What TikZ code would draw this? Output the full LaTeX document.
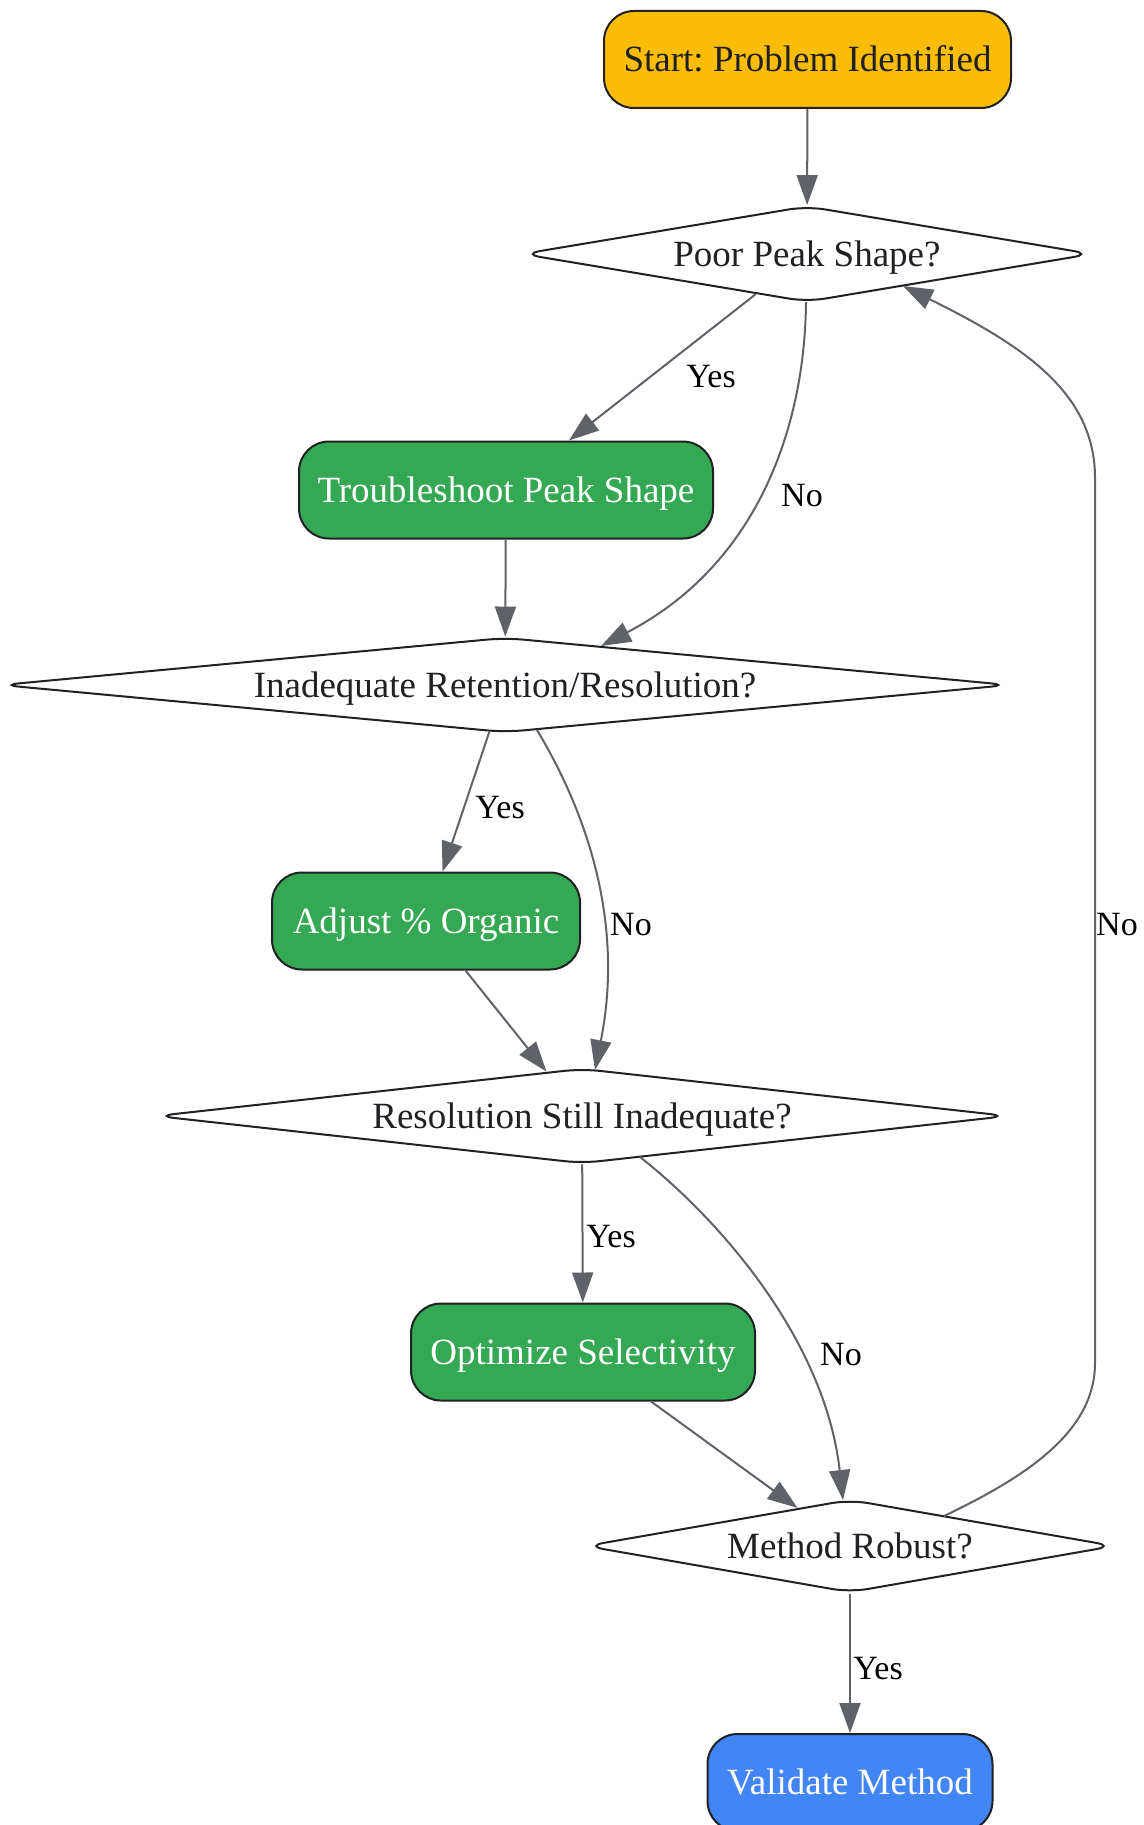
\documentclass[tikz,border=0pt]{standalone}
\usepackage{fontspec}
\setmainfont{Liberation Serif}
\usetikzlibrary{shapes.geometric,arrows.meta,calc}
\definecolor{gyel}{HTML}{FBBC05}
\definecolor{ggrn}{HTML}{34A853}
\definecolor{gblu}{HTML}{4285F4}
\definecolor{egray}{HTML}{5F6368}
\definecolor{bord}{HTML}{202124}
\frenchspacing
\begin{document}
\begin{tikzpicture}[x=1pt,y=-1pt,
  box/.style={draw=bord, line width=2pt, rounded corners=30pt, minimum height=97pt,
    inner sep=0pt, text height=24pt, text depth=0pt, font=\fontsize{37}{44}\selectfont},
  dec/.style={draw=bord, fill=white, line width=2pt, shape=diamond, rounded corners=18pt,
    inner sep=0pt, text=bord, text height=24pt, text depth=0pt, font=\fontsize{37}{44}\selectfont},
  conn/.style={draw=egray, line width=2pt, -{Triangle[length=30pt,width=21pt]}},
  lbl/.style={font=\fontsize{34}{40}\selectfont, anchor=base, inner sep=0pt, text=black}]
\fill[white] (0,0) rectangle (1143,1825);
\useasboundingbox (0,0) rectangle (1143,1825);

\node[box, fill=gyel, text=bord, minimum width=407pt] (start) at (807.5,59.5) {Start: Problem Identified};
\node[dec, aspect=5.94, minimum width=570pt, minimum height=96pt] (poor) at (807,254) {Poor Peak Shape?};
\node[box, fill=ggrn, text=white, minimum width=414pt] (trouble) at (506,490) {Troubleshoot Peak Shape};
\node[dec, aspect=10.6, minimum width=1008pt, minimum height=95pt] (inad) at (505,685) {Inadequate Retention/Resolution?};
\node[box, fill=ggrn, text=white, minimum width=308pt] (adjust) at (426,921) {Adjust \% Organic};
\node[dec, aspect=8.97, minimum width=852pt, minimum height=95pt] (res) at (582,1116) {Resolution Still Inadequate?};
\node[box, fill=ggrn, text=white, minimum width=344pt] (opt) at (583,1352) {Optimize Selectivity};
\node[dec, aspect=5.69, minimum width=529pt, minimum height=93pt] (meth) at (850,1546) {Method Robust?};
\node[box, fill=gblu, text=white, minimum width=285pt] (valid) at (850,1782.5) {Validate Method};

% straight connectors
\draw[conn] (start) -- (poor);
\draw[conn] (poor) -- (trouble);
\draw[conn] (trouble) -- (inad);
\draw[conn] (inad) -- (adjust);
\draw[conn] (adjust) -- (res);
\draw[conn] (res) -- (opt);
\draw[conn] (opt) -- (meth);
\draw[conn] (meth) -- (valid);

% curved connectors
\draw[conn] ($(poor.center)+(-1,48)$) .. controls (805,420) and (762,562) .. ($(inad.center)+(96,-39)$);
\draw[conn] ($(inad.center)+(32,45)$) .. controls (585,810) and (625,920) .. ($(res.center)+(13,-46)$);
\draw[conn] ($(res.center)+(58,41)$) .. controls (720,1220) and (825,1340) .. ($(meth.center)+(-7,-46)$);
\draw[conn] ($(meth.center)+(94,-30)$) .. controls (1030,1475) and (1095,1430) .. (1095,1363)
   -- (1095,478) .. controls (1095,392) and (1022,345) .. ($(poor.center)+(96,32)$);

% labels
\node[lbl] (l1) at (711,387) {Yes};
\node[lbl] (l2) at (802,506) {No};
\node[lbl] (l3) at (500,818) {Yes};
\node[lbl] (l4) at (631,935) {No};
\node[lbl] (l5) at (611,1247) {Yes};
\node[lbl] (l6) at (841,1365) {No};
\node[lbl] (l7) at (1117,935) {No};
\node[lbl] (l8) at (878,1679) {Yes};
\end{tikzpicture}
\end{document}
